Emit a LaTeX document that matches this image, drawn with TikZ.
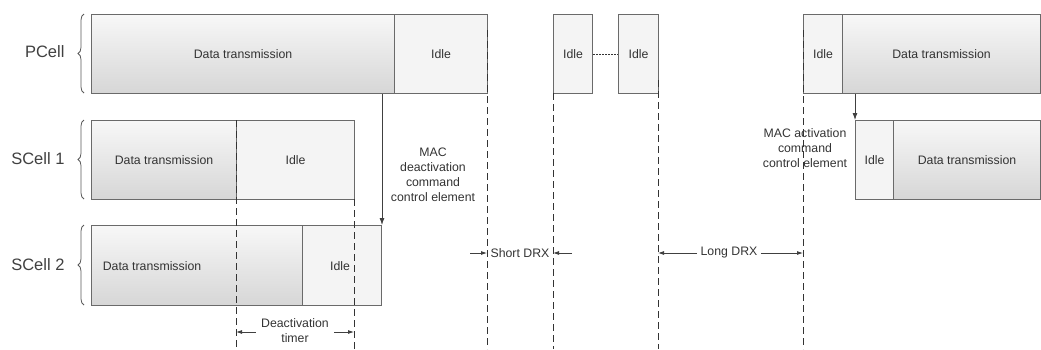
\documentclass[tikz,border=0pt]{standalone}
\usepackage{fontspec}
\setmainfont{Liberation Sans}
\usetikzlibrary{arrows.meta,decorations.pathreplacing,calc}
\definecolor{txt}{HTML}{333333}
\definecolor{edge}{HTML}{6A6A6A}
\definecolor{idlefill}{HTML}{F4F4F4}
\begin{document}
\begin{tikzpicture}[x=1pt,y=-1pt,
  font=\fontsize{12.3}{15}\selectfont, text=txt,
  seg/.style={draw=edge, line width=1pt, anchor=north west, inner sep=0pt, minimum height=79pt},
  databox/.style={seg, top color=white!97!black, bottom color=white!84!black},
  idlebox/.style={seg, fill=idlefill},
  dashline/.style={draw=black!80, line width=0.9pt, dash pattern=on 7pt off 4pt},
  arr/.style={draw=black!75, line width=0.8pt, -{Latex[length=7pt,width=5pt]}},
  darr/.style={draw=black!75, line width=0.8pt, -{Latex[length=6pt,width=4pt]}},
  bracestyle/.style={draw=black!65, line width=0.8pt, decorate, decoration={brace, amplitude=6pt}},
  celllabel/.style={anchor=east, font=\fontsize{16.5}{19}\selectfont, text=black!75}
]
\useasboundingbox (0,0) rectangle (1041,349);

% PCell
\node[databox, minimum width=303pt] (pd) at (91,14) {Data transmission};
\node[idlebox, minimum width=93pt] (pi) at (394,14) {Idle};
\node[idlebox, minimum width=39pt] (pi1) at (553,14) {Idle};
\node[idlebox, minimum width=40pt] (pi2) at (618,14) {Idle};
\node[idlebox, minimum width=39pt] (rpi) at (803,14) {Idle};
\node[databox, minimum width=198pt] (rpd) at (842,14) {Data transmission};
\draw[draw=black!80, line width=1pt, dash pattern=on 1.5pt off 1.5pt] (pi1.east) -- (pi2.west);

% SCell 1
\node[databox, minimum width=145pt] (s1d) at (91,120) {Data transmission};
\node[idlebox, minimum width=118pt] (s1i) at (236,120) {Idle};
\node[idlebox, minimum width=38pt] (r1i) at (855,120) {Idle};
\node[databox, minimum width=147pt] (r1d) at (893,120) {Data transmission};

% SCell 2
\node[databox, minimum width=211pt, minimum height=80pt] (s2d) at (91,225) {};
\node[idlebox, minimum width=79pt, minimum height=80pt] (s2i) at (302,225) {};
\node (s2dt) at (152,266) {Data transmission};
\node (s2it) at (340,266) {Idle};

% braces and labels
\draw[bracestyle] (84,93) -- (84,14) coordinate[midway] (b1);
\draw[bracestyle] (84,199) -- (84,120) coordinate[midway] (b2);
\draw[bracestyle] (84,305) -- (84,225) coordinate[midway] (b3);
\node[celllabel] (lp) at (68,52) {PCell};
\node[celllabel] (l1) at (68,159) {SCell 1};
\node[celllabel] (l2) at (68,265) {SCell 2};

% dashed timeline lines
\coordinate (d1t) at (236,120); \coordinate (d1b) at (236,349);
\coordinate (d2t) at (354,199); \coordinate (d2b) at (354,349);
\coordinate (d3t) at (487,30);  \coordinate (d3b) at (487,349);
\coordinate (d4t) at (553,93);  \coordinate (d4b) at (553,349);
\coordinate (d5t) at (658,80);  \coordinate (d5b) at (658,349);
\coordinate (d6t) at (803,30);  \coordinate (d6b) at (803,349);
\foreach \i in {1,...,6} \draw[dashline] (d\i t) -- (d\i b);

% MAC deactivation
\draw[arr] (s2i.north east |- pd.south) -- (s2i.north east);
\node[align=center] (macd) at (433,175) {MAC\\deactivation\\command\\control element};

% MAC activation
\draw[arr] (r1i.north west |- rpd.south) -- (r1i.north west);
\node[align=center] (maca) at (805,148) {MAC activation\\command\\control element};

% Deactivation timer
\node[align=center] (dt) at (295,331) {Deactivation\\timer};
\coordinate (dtl) at (236,332); \coordinate (dtr) at (354,332);
\draw[darr] (dt.west |- dtl) ++(-2,0) -- (dtl);
\draw[darr] (dt.east |- dtr) ++(2,0) -- (dtr);

% Short DRX
\node[inner sep=1pt] (sdrx) at (520,253) {Short DRX};
\coordinate (sl) at (487,253); \coordinate (sr) at (553,253);
\draw[darr] ($(sl)+(-17,0)$) -- (sl);
\draw[darr] ($(sr)+(19,0)$) -- (sr);

% Long DRX
\node (ldrx) at (729,253) {Long DRX};
\coordinate (ll) at (658,253); \coordinate (lr) at (803,253);
\draw[darr] (ldrx.west) -- (ll);
\draw[darr] (ldrx.east) -- (lr);
\end{tikzpicture}
\end{document}
